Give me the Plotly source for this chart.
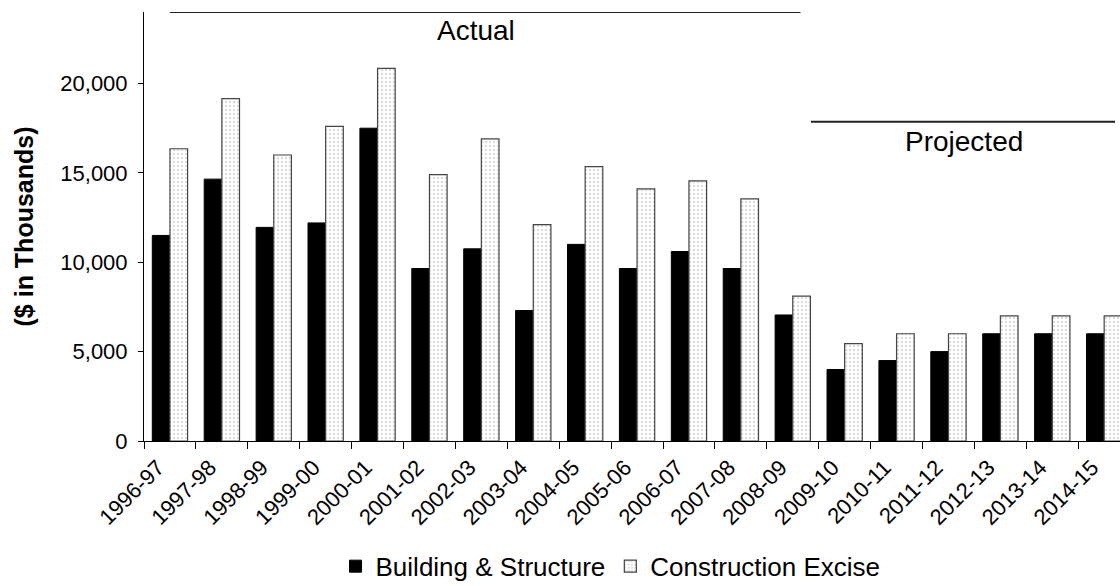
import plotly.graph_objects as go

years = ["1996-97", "1997-98", "1998-99", "1999-00", "2000-01", "2001-02", "2002-03",
         "2003-04", "2004-05", "2005-06", "2006-07", "2007-08", "2008-09", "2009-10",
         "2010-11", "2011-12", "2012-13", "2013-14", "2014-15"]
building = [11500, 14650, 11950, 12200, 17500, 9650, 10750, 7300, 11000, 9650,
            10600, 9650, 7050, 4000, 4500, 5000, 6000, 6000, 6000]
excise = [16350, 19150, 16000, 17600, 20850, 14900, 16900, 12100, 15350, 14100,
          14550, 13550, 8100, 5450, 6000, 6000, 7000, 7000, 7000]
y_ticks = [0, 5000, 10000, 15000, 20000]

FONT = "Liberation Sans, Arial, sans-serif"

fig = go.Figure()
fig.add_trace(go.Bar(
    x=years, y=building, name="Building & Structure",
    marker=dict(color="black", line=dict(color="black", width=1)),
))
fig.add_trace(go.Bar(
    x=years, y=excise, name="Construction Excise",
    marker=dict(color="white", line=dict(color="#444444", width=1.2),
                pattern=dict(shape=".", fgcolor="#b8b8b8", bgcolor="white",
                             size=4, solidity=0.3)),
))

# Section lines and labels
fig.add_shape(type="line", xref="x", yref="y", x0=0, x1=12.15, y0=24000, y1=24000,
              line=dict(color="#222222", width=2))
fig.add_shape(type="line", xref="x", yref="y", x0=12.35, x1=18.21, y0=17860, y1=17860,
              line=dict(color="#222222", width=2))
fig.add_annotation(x=5.9, y=22980, xref="x", yref="y", text="Actual", showarrow=False,
                   font=dict(family=FONT, size=28, color="black"), yanchor="middle")
fig.add_annotation(x=15.29, y=16783, xref="x", yref="y", text="Projected", showarrow=False,
                   font=dict(family=FONT, size=28, color="black"), yanchor="middle")

fig.update_layout(
    width=1120, height=586,
    margin=dict(l=144, r=0, t=12, b=145, autoexpand=False),
    paper_bgcolor="white", plot_bgcolor="white",
    barmode="group", bargap=0.32, bargroupgap=0,
    font=dict(family=FONT, color="black"),
    showlegend=True,
    legend=dict(orientation="h", x=0.478, xanchor="center", y=-0.292, yanchor="middle",
                font=dict(family=FONT, size=26, color="black"), traceorder="normal",
                itemwidth=30, bgcolor="rgba(0,0,0,0)"),
    xaxis=dict(
        type="category", range=[-0.5, 18.305], tickangle=-45,
        tickson="boundaries", ticks="outside", ticklen=7, tickcolor="black",
        showline=True, linecolor="black", linewidth=1, showgrid=False,
        tickfont=dict(family=FONT, size=22, color="black"), automargin=False,
        ticklabelshift=-12, ticklabelstandoff=4,
    ),
    yaxis=dict(
        range=[0, 24000], tickvals=y_ticks, tickformat=",d",
        ticks="outside", ticklen=5, tickcolor="black",
        showline=True, linecolor="black", linewidth=1, showgrid=False, zeroline=False,
        tickfont=dict(family=FONT, size=22, color="black"), automargin=False,
        ticklabelstandoff=6,
        title=dict(text="<b>($ in Thousands)</b>", standoff=19,
                   font=dict(family=FONT, size=25, color="black")),
    ),
)

fig.write_html("out.html")
